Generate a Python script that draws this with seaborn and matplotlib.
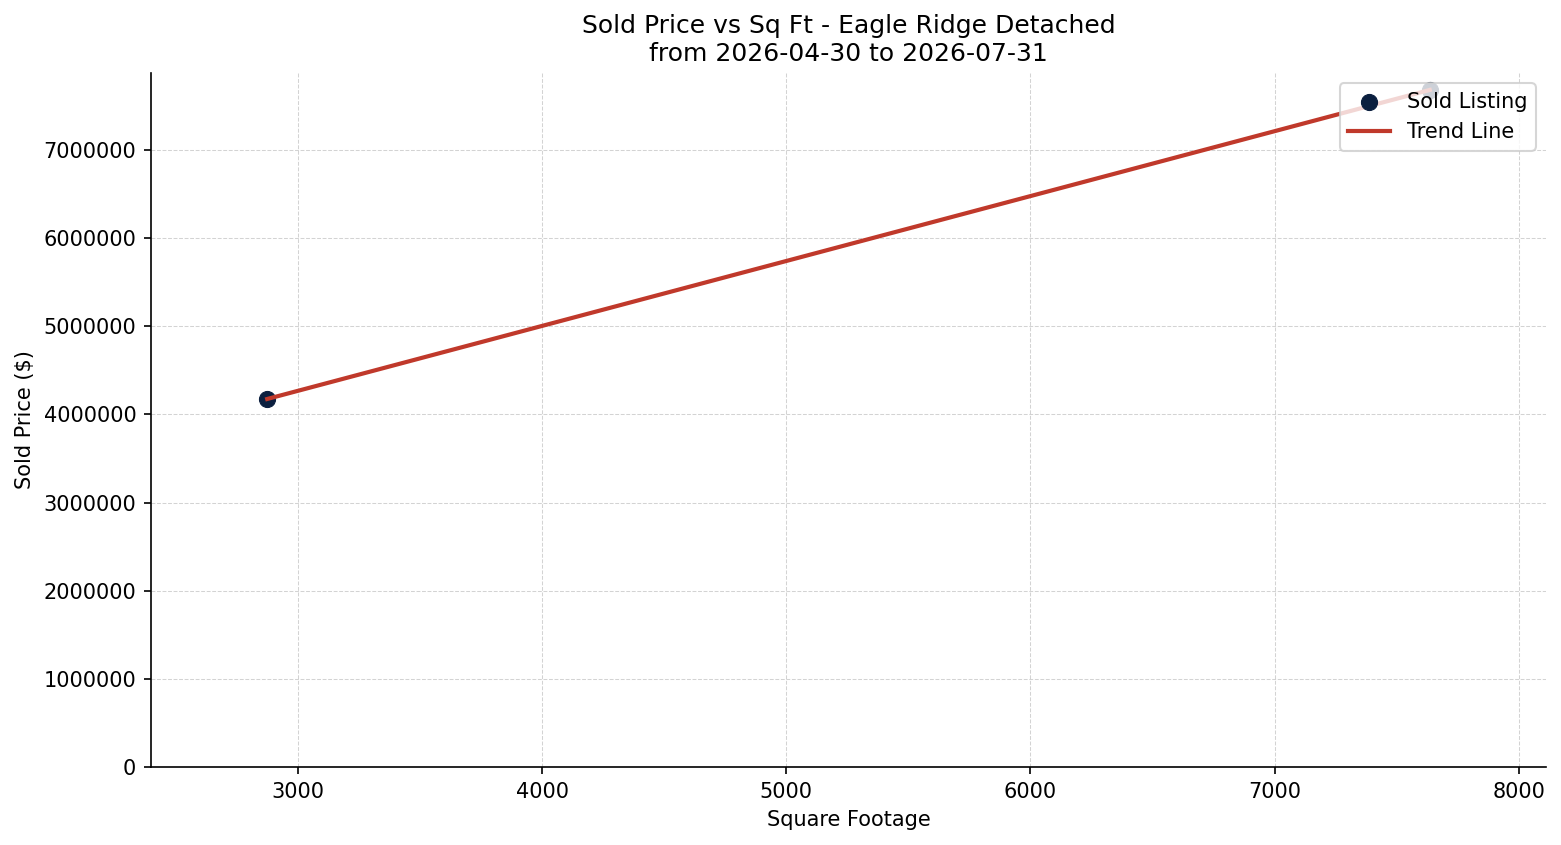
import numpy as np
import pandas as pd
import seaborn as sns
import matplotlib
matplotlib.use('Agg')
import matplotlib.pyplot as plt
from matplotlib.ticker import StrMethodFormatter

# sold listings
sq_ft = [2873, 7636]
sold_price = [4175000, 7681000]

area_name = 'Eagle Ridge Detached'
date_from = '2026-04-30'
date_to = '2026-07-31'

point_color = '#0b1f3f'
line_color = '#c0392b'

sold_df = pd.DataFrame({'SqFt': sq_ft, 'SoldPrice': sold_price})

# simple linear trend
slope, intercept = np.polyfit(sold_df.SqFt, sold_df.SoldPrice, 1)
trend_df = pd.DataFrame({'SqFt': sold_df.SqFt})
trend_df['SoldPrice'] = slope * trend_df.SqFt + intercept

fig = plt.figure(figsize=(1561 / 150, 845 / 150), dpi=150)
ax = fig.add_axes([0.0967, 0.0923, 0.8937, 0.8213])

sns.scatterplot(data=sold_df, x='SqFt', y='SoldPrice', color=point_color,
                s=60, edgecolor=point_color, linewidth=0.5, zorder=3,
                label='Sold Listing', ax=ax)
sns.lineplot(data=trend_df, x='SqFt', y='SoldPrice', color=line_color,
             linewidth=2, zorder=4, label='Trend Line', ax=ax)

x_pad = (max(sq_ft) - min(sq_ft)) * 0.1
ax.set_xlim(min(sq_ft) - x_pad, max(sq_ft) + x_pad)
ax.set_ylim(0, max(sold_price) * 1.025)
ax.yaxis.set_major_formatter(StrMethodFormatter('{x:.0f}'))

ax.grid(True, linestyle='--', linewidth=0.5, color='#c8c8c8', alpha=0.8)
ax.set_axisbelow(True)
sns.despine(ax=ax)

ax.set_title(f'Sold Price vs Sq Ft - {area_name}\nfrom {date_from} to {date_to}',
             fontsize=12)
ax.set_xlabel('Square Footage')
ax.set_ylabel('Sold Price ($)')
ax.legend(loc='upper right')

fig.savefig('out.png', dpi=150)
plt.close()
